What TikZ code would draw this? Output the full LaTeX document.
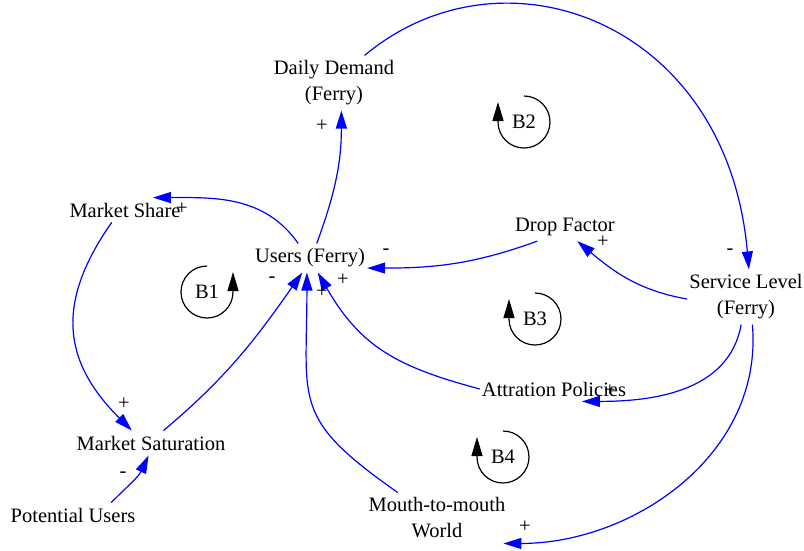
\documentclass[tikz,border=0pt]{standalone}
\usepackage{fontspec}
\setmainfont{Liberation Serif}
\usepackage{tikz}
\usetikzlibrary{arrows.meta}
\usepackage{xcolor}

\begin{document}
\begin{tikzpicture}[
  x=1pt, y=1pt,
  every node/.style={font=\fontsize{20.5pt}{26pt}\selectfont, align=center},
  var/.style    ={inner xsep=2pt, inner ysep=5pt},
  sign/.style   ={inner sep=0pt},
  link/.style   ={draw=blue, line width=1.2pt, -{Triangle[length=18pt, width=11pt]}},
  loopsym/.style={draw=black, line width=1.2pt, -{Triangle[length=19pt, width=11pt]}}
]
\useasboundingbox (0,0) rectangle (804,-550);

\node[var] (users)      at (310,-258) {Users (Ferry)};
\node[var] (demand)     at (334,-83)  {Daily Demand\\(Ferry)};
\node[var] (share)      at (125,-210) {Market Share};
\node[var] (saturation) at (151,-443) {Market Saturation};
\node[var] (potential)  at (73,-515)  {Potential Users};
\node[var] (drop)       at (565,-227) {Drop Factor};
\node[var] (service)    at (746,-297) {Service Level\\(Ferry)};
\node[var] (policies)   at (554,-389) {Attration Policies};
\node[var] (mouth)      at (437,-518) {Mouth-to-mouth\\World};

\node (b1) at (207,-292) {B1};
\node (b2) at (524,-122) {B2};
\node (b3) at (535,-319) {B3};
\node (b4) at (503,-457) {B4};

\draw[loopsym] (b1.center) ++(90:26) arc[start angle=90, end angle=360, radius=26] -- ++(0,20);
\foreach \b in {b2,b3,b4}
  \draw[loopsym] (\b.center) ++(90:26) arc[start angle=90, end angle=-180, radius=26] -- ++(0,20);

\draw[link] (users.65)      to[out=70, in=-90] (demand.-75);
\draw[link] (demand.42)     to[out=40, in=95, out distance=180pt, in distance=250pt] (service.84);
\draw[link] (service.182)   to[out=170, in=-40] (drop.-49);
\draw[link] (drop.207)      to[out=200, in=0] (users.-10);
\draw[link] (users.129)     to[out=125, in=0] (share.24);
\draw[link] (share.223)     to[out=235, in=135, looseness=1.2] (saturation.147);
\draw[link] (saturation.45) to[out=40, in=235] (users.-118);
\draw[link] (potential.18)  to[out=45, in=-115] (saturation.-101);
\draw[link] (mouth.147)     to[out=145, in=-90, looseness=1.4] (users.-102);
\draw[link] (policies.180)  to[out=165, in=-60, looseness=1.1] (users.-62);
\draw[link] (service.-100)  to[out=-100, in=0] (policies.-24);
\draw[link] (service.-77)   to[out=-85, in=0] (mouth.-21);

\node[sign] (s1)  at (322,-126) {+};
\node[sign] (s2)  at (730,-252) {-};
\node[sign] (s3)  at (603,-242) {+};
\node[sign] (s4)  at (386,-252) {-};
\node[sign] (s5)  at (182,-209) {+};
\node[sign] (s6)  at (124,-404) {+};
\node[sign] (s7)  at (272,-280) {-};
\node[sign] (s8)  at (123,-475) {-};
\node[sign] (s9)  at (322,-292) {+};
\node[sign] (s10) at (343,-280) {+};
\node[sign] (s11) at (610,-391) {+};
\node[sign] (s12) at (525,-527) {+};

\end{tikzpicture}
\end{document}
